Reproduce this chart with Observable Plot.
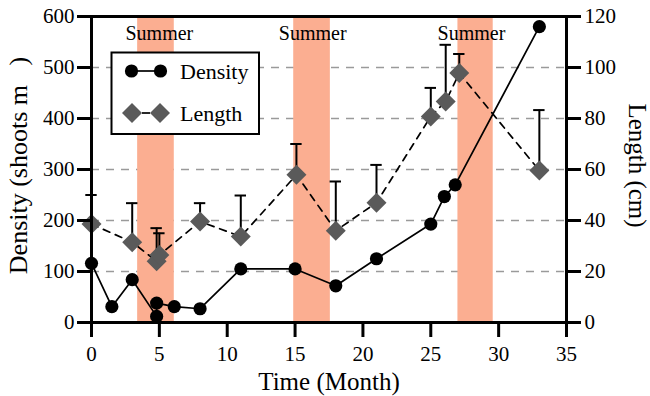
<!DOCTYPE html>
<html>
<head>
<meta charset="utf-8">
<script src="https://cdn.jsdelivr.net/npm/d3@7"></script>
<script src="https://cdn.jsdelivr.net/npm/@observablehq/plot@0.6"></script>
<style>
  html, body { margin: 0; padding: 0; background: #fff; }
  #wrap { position: relative; width: 650px; height: 396px; font-family: "Liberation Serif", "Times New Roman", serif; }
  #wrap svg, #wrap svg g, #wrap svg text { font-family: "Liberation Serif", "Times New Roman", serif !important; font-variant: normal !important; font-variant-numeric: normal !important; }
  #legend { position: absolute; left: 0; top: 0; pointer-events: none; }
</style>
</head>
<body>
<div id="wrap"></div>
<script>
// ---- data ----
const densityMonth = [0, 1.5, 3, 4.8, 4.8, 6.1, 8, 11, 15, 18, 21, 25, 26, 26.8, 33];
const densityValue = [116, 31, 84, 12, 38, 31, 27, 105, 105, 72, 125, 193, 247, 270, 580];

const lengthMonth = [0, 3, 4.8, 5.0, 8, 11, 15.1, 18, 21, 25, 26.1, 27.1, 33];
const lengthValue = [38.6, 31.5, 24, 26.5, 39.6, 33.7, 57.9, 36, 47, 80.8, 86.7, 97.8, 59.6];
const lengthUpper = [50, 46.8, 37, 35, 46.8, 49.8, 70, 55.3, 61.8, 92, 108.9, 105.3, 83.3];

const summerStart = [3.4, 14.9, 27.0];
const summerEnd = [6.1, 17.6, 29.6];
const summerLabelX = [5.0, 16.3, 28.0];
const summerLabel = ["Summer", "Summer", "Summer"];

const xTicks = [0, 5, 10, 15, 20, 25, 30, 35];
const densityTicks = [0, 100, 200, 300, 400, 500, 600];
const gridValues = [100, 200, 300, 400, 500];
const lengthTicks = [0, 20, 40, 60, 80, 100, 120];

const xTitle = "Time (Month)";
const yLeftTitle = "Density (shoots m\u00a0\u00a0\u00a0)";
const yRightTitle = "Length (cm)";

// length axis (0-120) maps onto density axis (0-600)
const LEN_FACTOR = 5;

const density = densityMonth.map((m, i) => ({month: m, value: densityValue[i]}));
const lengths = lengthMonth.map((m, i) => ({month: m, value: lengthValue[i], upper: lengthUpper[i]}));
const summers = summerStart.map((s, i) => ({start: s, end: summerEnd[i]}));
const summerText = summerLabelX.map((x, i) => ({x, label: summerLabel[i]}));

const FONT = "Liberation Serif";
const capHalf = 0.42;

const chart = Plot.plot({
  width: 650,
  height: 396,
  marginLeft: 91,
  marginRight: 84,
  marginTop: 16,
  marginBottom: 74,
  style: {fontFamily: FONT, fontSize: "21px", color: "black", background: "white"},
  x: {domain: [0, 35]},
  y: {domain: [0, 600]},
  marks: [
    Plot.gridY(gridValues, {stroke: "#9a9a9a", strokeOpacity: 1, strokeWidth: 1.6, strokeDasharray: "8,7"}),
    Plot.rect(summers, {x1: "start", x2: "end", fill: "#FBAE91"}),
    Plot.text(summerText, {x: "x", text: "label", frameAnchor: "top", dy: 17, lineAnchor: "middle", fontSize: 20}),
    Plot.line(density, {x: "month", y: "value", stroke: "black", strokeWidth: 1.7}),
    Plot.line(lengths, {x: "month", y: d => d.value * LEN_FACTOR, stroke: "black", strokeWidth: 1.7, strokeDasharray: "7,6"}),
    Plot.ruleX(lengths, {x: "month", y1: d => d.value * LEN_FACTOR, y2: d => d.upper * LEN_FACTOR, stroke: "black", strokeWidth: 2}),
    Plot.ruleY(lengths, {y: d => d.upper * LEN_FACTOR, x1: d => d.month - capHalf, x2: d => d.month + capHalf, stroke: "black", strokeWidth: 2}),
    Plot.dot(lengths, {x: "month", y: d => d.value * LEN_FACTOR, symbol: "diamond2", r: 9, fill: "#5a5a5a", stroke: "none"}),
    Plot.dot(density, {x: "month", y: "value", r: 6.6, fill: "black", stroke: "none"}),
    Plot.frame({stroke: "black", strokeWidth: 3}),
    Plot.axisX({ticks: xTicks, tickSize: 15, tickPadding: 9, strokeWidth: 3, fontSize: 21, fontVariant: "normal", label: null}),
    Plot.axisY({anchor: "left", ticks: densityTicks, tickSize: 14, tickPadding: 3, strokeWidth: 3, fontSize: 21, fontVariant: "normal", label: null}),
    Plot.axisY({anchor: "right", ticks: lengthTicks.map(v => v * LEN_FACTOR), tickFormat: d => String(d / LEN_FACTOR), tickSize: 14, tickPadding: 4, strokeWidth: 3, fontSize: 21, fontVariant: "normal", label: null}),
    Plot.text([xTitle], {frameAnchor: "bottom", dy: 59, lineAnchor: "middle", fontSize: 25}),
    Plot.text([yLeftTitle], {frameAnchor: "left", dx: -73, dy: -4, rotate: -90, lineAnchor: "middle", textAnchor: "middle", fontSize: 26}),
    Plot.text([yRightTitle], {frameAnchor: "right", dx: 70, dy: -4, rotate: 90, lineAnchor: "middle", textAnchor: "middle", fontSize: 25})
  ]
});

const wrap = document.getElementById("wrap");
wrap.appendChild(chart);

// legend overlay
const ns = "http://www.w3.org/2000/svg";
const leg = document.createElementNS(ns, "svg");
leg.setAttribute("id", "legend");
leg.setAttribute("width", 650);
leg.setAttribute("height", 396);
leg.innerHTML = `
  <rect x="111.5" y="52.5" width="147.5" height="81.5" fill="white" stroke="black" stroke-width="2"/>
  <line x1="131.5" y1="71" x2="160.5" y2="71" stroke="black" stroke-width="1.7"/>
  <circle cx="131.5" cy="71" r="6.6" fill="black"/>
  <circle cx="160.5" cy="71" r="6.6" fill="black"/>
  <line x1="142" y1="113" x2="150" y2="113" stroke="black" stroke-width="1.7"/>
  <path d="M132,103 L142,113 L132,123 L122,113 Z" fill="#5a5a5a"/>
  <path d="M160,103 L170,113 L160,123 L150,113 Z" fill="#5a5a5a"/>
  <text x="180" y="71" dominant-baseline="central" font-size="22">Density</text>
  <text x="180" y="113" dominant-baseline="central" font-size="22">Length</text>
`;
wrap.appendChild(leg);
</script>
</body>
</html>
